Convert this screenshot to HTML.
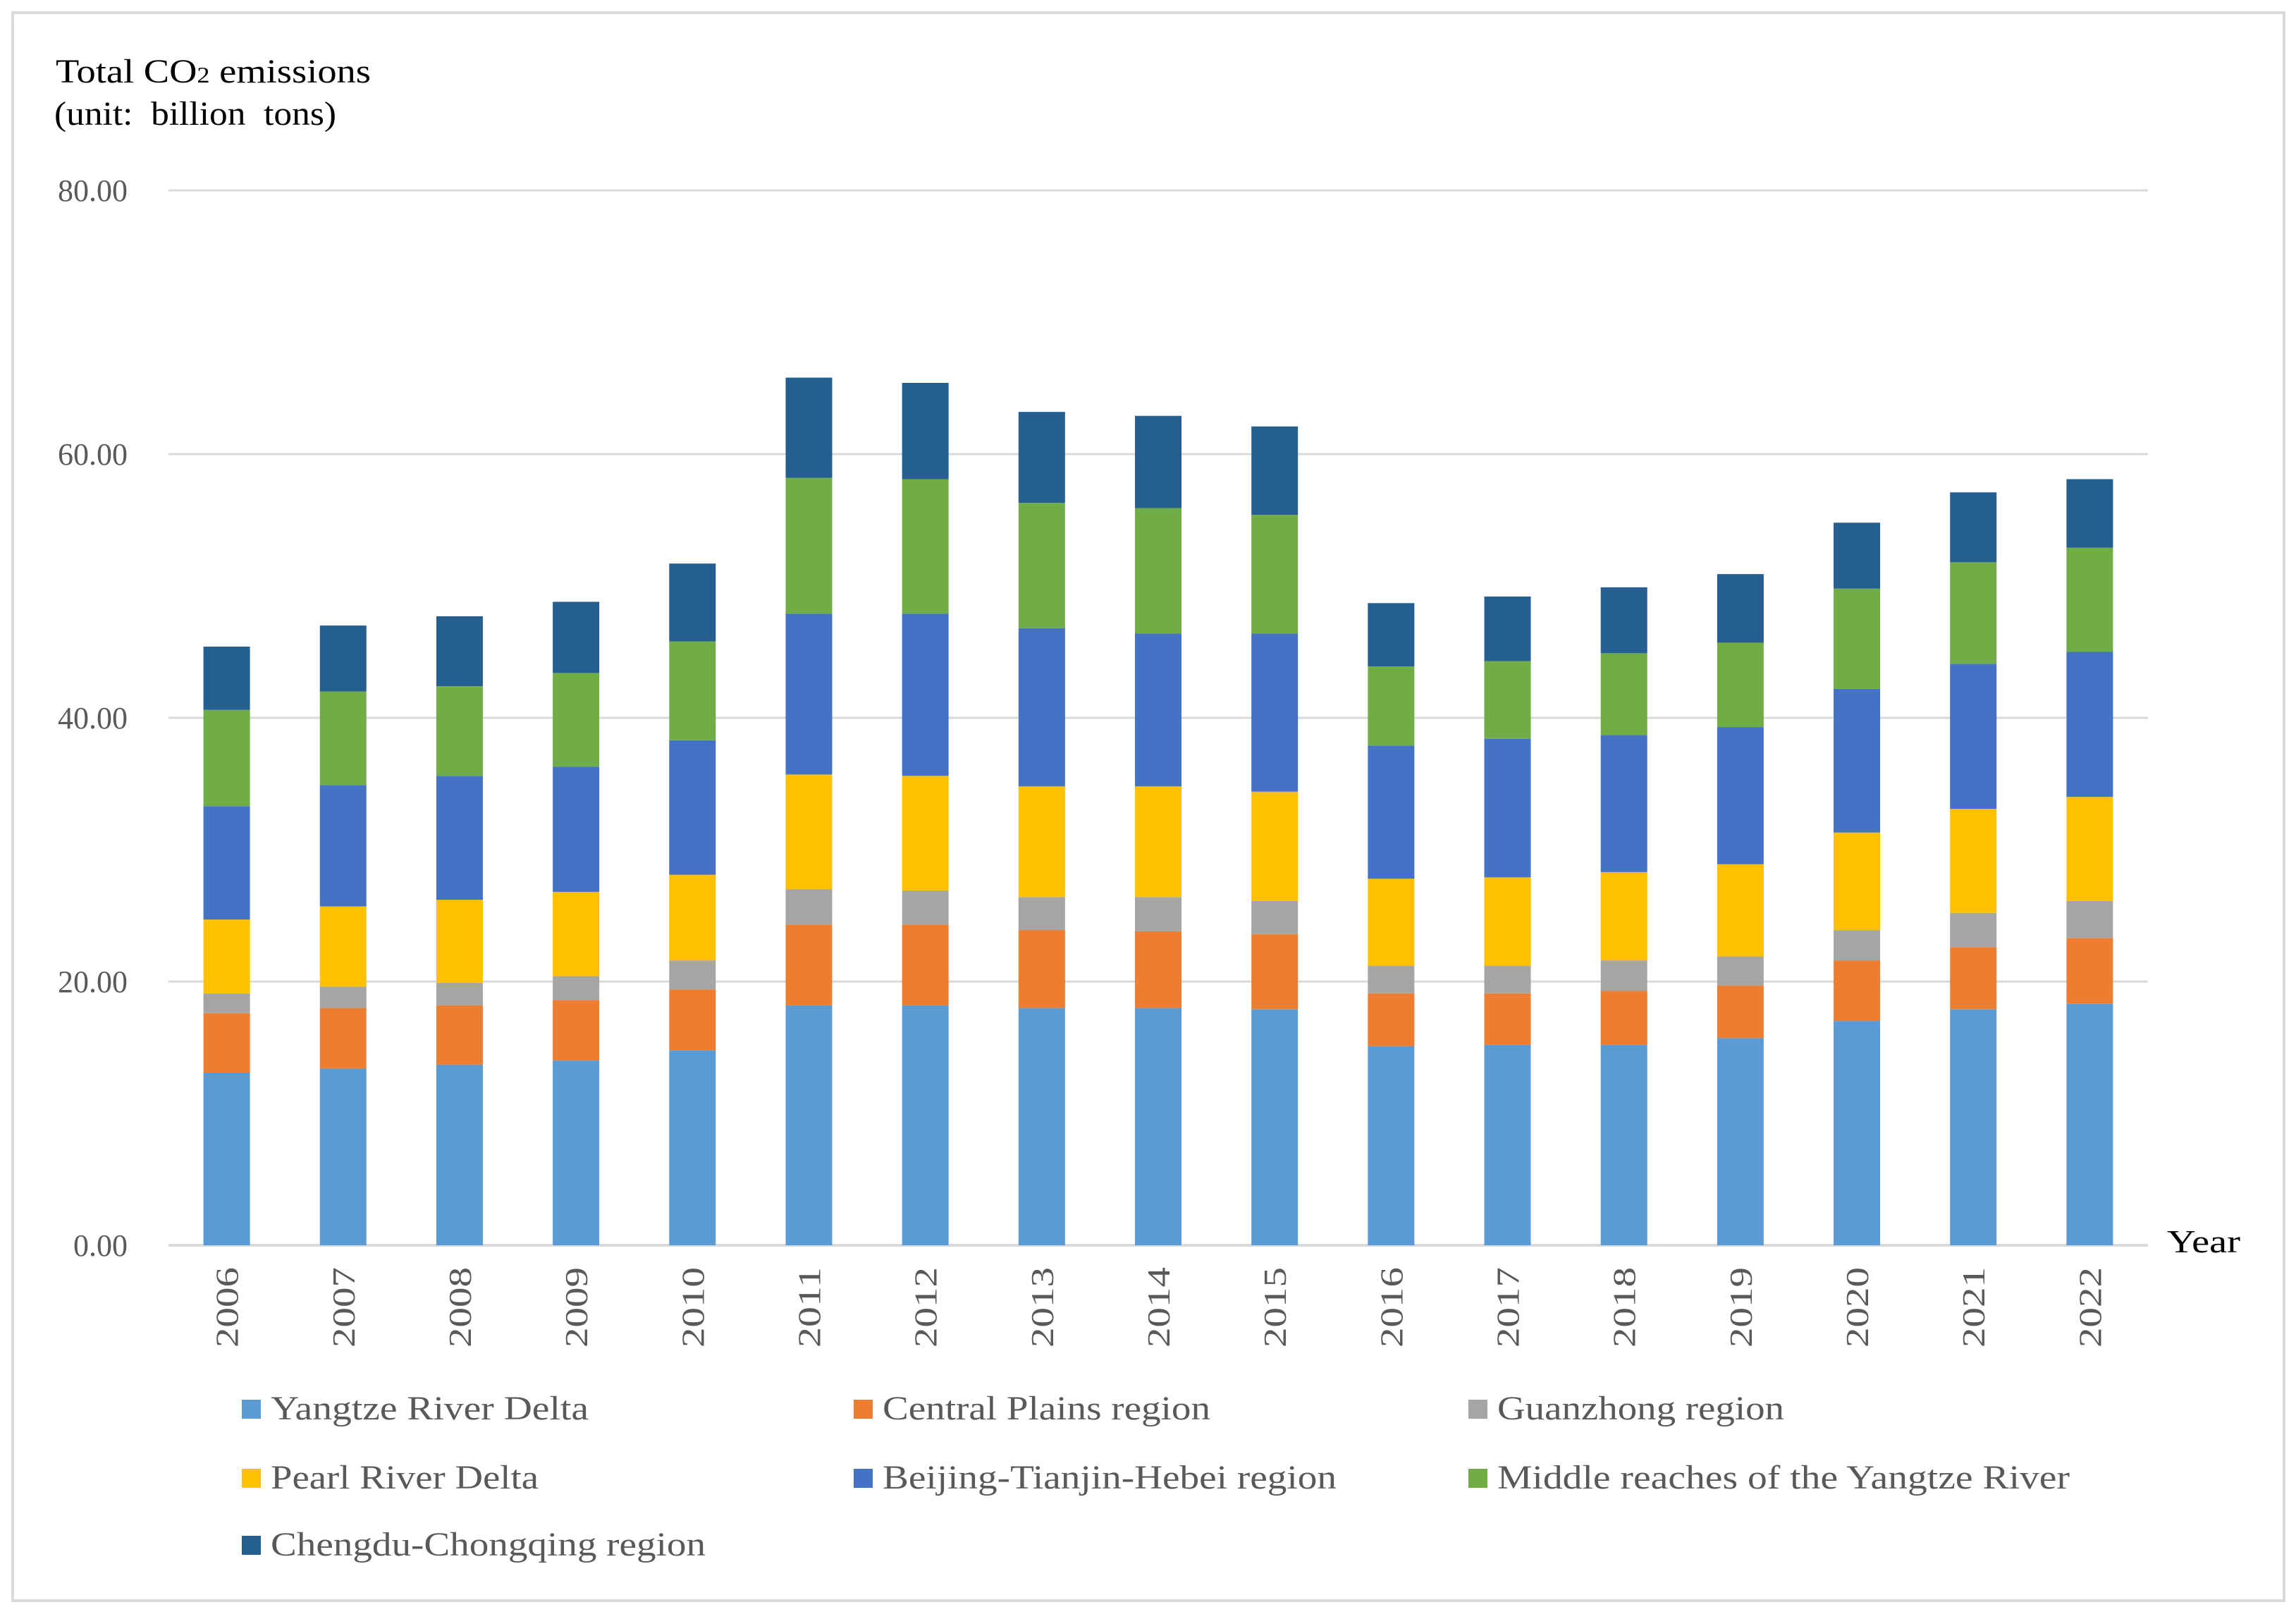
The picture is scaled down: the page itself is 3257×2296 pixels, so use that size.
<!DOCTYPE html>
<html><head><meta charset="utf-8"><style>
html,body{margin:0;padding:0;background:#fff;}
svg{display:block;font-family:"Liberation Serif",serif;}
</style></head><body>
<svg id="chart" width="3257" height="2296" viewBox="0 0 3257 2296">
<rect x="18" y="18" width="3222" height="2252" fill="#fff" stroke="#d9d9d9" stroke-width="4"/>
<text x="79" y="117" font-size="48" fill="#000" textLength="447" lengthAdjust="spacingAndGlyphs">Total CO<tspan font-size="32">2</tspan> emissions</text>
<text x="77" y="177" font-size="48" fill="#000" xml:space="preserve" textLength="400" lengthAdjust="spacingAndGlyphs">(unit:  billion  tons)</text>
<text x="3074" y="1776" font-size="46" fill="#000" textLength="104" lengthAdjust="spacingAndGlyphs">Year</text>
<g id="grid"></g><g id="bars"></g><g id="xlabels"></g><g id="legend"></g>
</svg>
<script>
const years = ["2006","2007","2008","2009","2010","2011","2012","2013","2014","2015","2016","2017","2018","2019","2020","2021","2022"];
const seriesNames = ["Yangtze River Delta","Central Plains region","Guanzhong region","Pearl River Delta","Beijing-Tianjin-Hebei region","Middle reaches of the Yangtze River","Chengdu-Chongqing region"];
const yangtze = [13.1,13.4,13.7,14.0,14.8,18.2,18.2,18.0,18.0,17.9,15.1,15.2,15.2,15.7,17.0,17.9,18.3];
const centralPlains = [4.5,4.6,4.5,4.6,4.6,6.1,6.1,5.9,5.8,5.7,4.0,3.9,4.1,4.0,4.6,4.7,5.0];
const guanzhong = [1.5,1.6,1.7,1.8,2.2,2.7,2.6,2.5,2.6,2.5,2.1,2.1,2.3,2.2,2.3,2.6,2.8];
const pearl = [5.6,6.1,6.3,6.4,6.5,8.7,8.7,8.4,8.4,8.3,6.6,6.7,6.7,7.0,7.4,7.9,7.9];
const bth = [8.6,9.2,9.4,9.5,10.2,12.2,12.3,12.0,11.6,12.0,10.1,10.5,10.4,10.4,10.9,11.0,11.0];
const middleYangtze = [7.3,7.1,6.8,7.1,7.5,10.3,10.2,9.5,9.5,9.0,6.0,5.9,6.2,6.4,7.6,7.7,7.9];
const chengduChongqing = [4.8,5.0,5.3,5.4,5.9,7.6,7.3,6.9,7.0,6.7,4.8,4.9,5.0,5.2,5.0,5.3,5.2];
const yTicks = [0,20,40,60,80];
const yTickLabels = ["0.00","20.00","40.00","60.00","80.00"];

const series = [yangtze,centralPlains,guanzhong,pearl,bth,middleYangtze,chengduChongqing];
const colors = ["#5b9bd5","#ed7d31","#a5a5a5","#ffc000","#4472c4","#70ad47","#255e91"];
const legendLens = [451,465,407,380,644,812,617];
const NS="http://www.w3.org/2000/svg";
const plotL=239, plotR=3047, y0=1766, y80=270;
const yScale=v=>y0-(v/80)*(y0-y80);
const step=(plotR-plotL)/years.length;
const xCenter=i=>plotL+step*(i+0.5);
const barW=66;
function mk(tag,attrs,parent){const e=document.createElementNS(NS,tag);for(const k in attrs)e.setAttribute(k,attrs[k]);parent.appendChild(e);return e;}
const grid=document.getElementById('grid');
yTicks.forEach((t,i)=>{
  const l=mk('line',{x1:plotL,x2:plotR,y1:yScale(t),y2:yScale(t),stroke:'#d9d9d9','stroke-width':t===0?4:3},grid);
  
  
  const tx=mk('text',{x:181,y:yScale(t)+15,'font-size':44,fill:'#595959','text-anchor':'end'},grid);
  tx.textContent=yTickLabels[i];
  
  
});
const bars=document.getElementById('bars');
years.forEach((yr,i)=>{
  let cum=0;
  series.forEach((s,k)=>{
    const top=yScale(cum+s[i]), bot=yScale(cum);
    const r=mk('rect',{x:xCenter(i)-barW/2,y:top,width:barW,height:bot-top,fill:colors[k]},bars);
    
    
    cum+=s[i];
  });
  const t=mk('text',{x:0,y:0,'font-size':46,fill:'#595959','text-anchor':'end',textLength:114,lengthAdjust:'spacingAndGlyphs',transform:`translate(${xCenter(i)+16},1797) rotate(-90)`},document.getElementById('xlabels'));
  t.textContent=yr;
  
  
});
const lg=document.getElementById('legend');
const colX=[343,1211,2083], rowY=[1998,2096,2191];
seriesNames.forEach((n,k)=>{
  const cx=colX[k%3], cy=rowY[Math.floor(k/3)];
  const g=mk('g',{},lg);
  
  
  mk('rect',{x:cx,y:cy-13,width:27,height:27,fill:colors[k]},g);
  const t=mk('text',{x:cx+41,y:cy+15,'font-size':48,fill:'#595959',textLength:legendLens[k],lengthAdjust:'spacingAndGlyphs'},g);
  t.textContent=n;
});
</script>
</body></html>
